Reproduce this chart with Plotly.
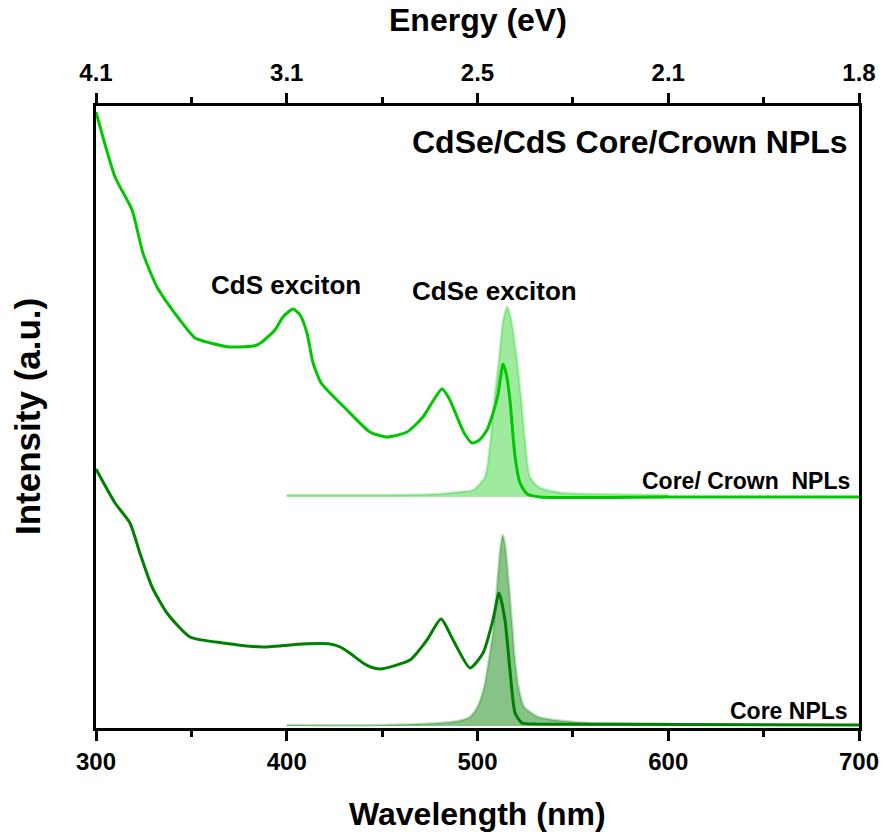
import plotly.graph_objects as go

# ---------------- data ----------------
# Core/Crown NPLs absorbance (wavelength nm, intensity a.u., relative to its own baseline)
cc_abs_nm = [300, 310, 318.9, 324.6, 332, 344, 351.9, 360, 370.2, 384.4, 393.8, 398, 403.3, 407,
             410.6, 413.8, 418, 422.7, 431.6, 443.6, 452.6, 463, 471.4, 477, 481.4, 485, 489.3,
             493, 497.1, 501, 505, 508, 510.7, 513.4, 515.2, 517, 519.7, 522.3, 526, 532.8, 600, 700]
cc_abs_val = [3.85, 3.20, 2.87, 2.44, 2.10, 1.77, 1.59, 1.54, 1.50, 1.52, 1.67, 1.80, 1.88, 1.82,
              1.64, 1.34, 1.14, 1.04, 0.87, 0.65, 0.60, 0.65, 0.80, 0.97, 1.08, 0.99, 0.80,
              0.64, 0.54, 0.57, 0.67, 0.83, 1.02, 1.33, 1.22, 0.97, 0.40, 0.14, 0.03, 0.0, 0.0, 0.0]

# Core/Crown NPLs photoluminescence
cc_pl_nm = [400, 450, 480, 490, 497.8, 503.9, 506.9, 508.8, 511.4, 513.5, 515.6, 517.5, 520.5,
            523, 524.9, 527.5, 532, 536.3, 545, 560, 600]
cc_pl_val = [0.02, 0.02, 0.03, 0.05, 0.07, 0.20, 0.57, 0.96, 1.40, 1.77, 1.90, 1.79, 1.40,
             0.96, 0.57, 0.20, 0.10, 0.07, 0.04, 0.03, 0.02]

# Core NPLs absorbance
core_abs_nm = [300, 310, 317.8, 323, 329.4, 337.2, 349.3, 366.6, 387.5, 408.5, 422.7, 428, 433,
               440, 444, 449, 464.6, 473.5, 480.9, 487.2, 496.1, 502.9, 508.1, 511.3, 514.4, 517,
               519.7, 523.3, 531.2, 700]
core_abs_val = [2.57, 2.23, 2.03, 1.73, 1.39, 1.13, 0.89, 0.83, 0.79, 0.82, 0.82, 0.79, 0.73,
                0.63, 0.59, 0.57, 0.66, 0.86, 1.07, 0.86, 0.58, 0.73, 1.06, 1.33, 1.06, 0.56,
                0.13, 0.03, 0.02, 0.01]

# Core NPLs photoluminescence
core_pl_nm = [400, 450, 480, 490, 496, 500, 503.5, 506.5, 508.3, 510.5, 512, 513.2, 514.5, 516.5,
              518.4, 519.3, 521.5, 524.5, 532, 545, 560, 600]
core_pl_val = [0.01, 0.01, 0.03, 0.05, 0.09, 0.19, 0.39, 0.73, 0.96, 1.46, 1.78, 1.91, 1.81, 1.41,
               0.96, 0.73, 0.39, 0.19, 0.09, 0.05, 0.03, 0.02]

# vertical offset of the Core/Crown spectra (stacked display)
cc_offset = 2.29

# axis ticks
wl_ticks = [300, 400, 500, 600, 700]
energy_tick_pos = [300, 400, 500, 600, 700]
energy_tick_text = ["4.1", "3.1", "2.5", "2.1", "1.8"]

# ---------------- styling ----------------
CC_LINE = "#00c800"
CORE_LINE = "#008000"
CC_FILL = "rgba(0,200,0,0.38)"
CC_EDGE = "rgba(0,200,0,0.25)"
CORE_FILL = "rgba(0,128,0,0.47)"
CORE_EDGE = "rgba(0,128,0,0.25)"
ARIAL = "Liberation Sans, Arial, sans-serif"

fig = go.Figure()

# Core PL (baseline + filled curve)
fig.add_trace(go.Scatter(x=[core_pl_nm[0], core_pl_nm[-1]], y=[0, 0], mode="lines",
                         line=dict(width=0, color="rgba(0,0,0,0)"), hoverinfo="skip", showlegend=False))
fig.add_trace(go.Scatter(x=core_pl_nm, y=core_pl_val, mode="lines", fill="tonexty",
                         fillcolor=CORE_FILL, line=dict(color=CORE_EDGE, width=2.5, shape="spline", smoothing=0.6),
                         showlegend=False))
# Core/Crown PL
fig.add_trace(go.Scatter(x=[cc_pl_nm[0], cc_pl_nm[-1]], y=[cc_offset, cc_offset], mode="lines",
                         line=dict(width=0, color="rgba(0,0,0,0)"), hoverinfo="skip", showlegend=False))
fig.add_trace(go.Scatter(x=cc_pl_nm, y=[v + cc_offset for v in cc_pl_val], mode="lines", fill="tonexty",
                         fillcolor=CC_FILL, line=dict(color=CC_EDGE, width=2.5, shape="spline", smoothing=0.6),
                         showlegend=False))
# Absorbance curves
fig.add_trace(go.Scatter(x=core_abs_nm, y=core_abs_val, mode="lines",
                         line=dict(color=CORE_LINE, width=3, shape="spline", smoothing=0.6), showlegend=False))
fig.add_trace(go.Scatter(x=cc_abs_nm, y=[v + cc_offset for v in cc_abs_val], mode="lines",
                         line=dict(color=CC_LINE, width=3, shape="spline", smoothing=0.6), showlegend=False))
# invisible trace to carry the top (energy) axis
fig.add_trace(go.Scatter(x=[300, 700], y=[0, 0], xaxis="x2", mode="lines",
                         line=dict(width=0, color="rgba(0,0,0,0)"), hoverinfo="skip", showlegend=False))

axis_common = dict(showline=True, linecolor="black", linewidth=2.5, showgrid=False, zeroline=False,
                   ticks="outside", ticklen=10, tickwidth=2.5, tickcolor="black", automargin=False,
                   minor=dict(ticks="outside", ticklen=6, tickwidth=2.5, tickcolor="black", dtick=50),
                   range=[300, 700], layer="below traces")

fig.update_layout(
    width=885, height=834,
    margin=dict(l=96, r=26, t=106, b=106),
    paper_bgcolor="white", plot_bgcolor="white",
    xaxis=dict(**axis_common, tickvals=wl_ticks, mirror=True, ticklabelstandoff=0,
               tickfont=dict(family=ARIAL, size=24, color="black", weight="bold")),
    xaxis2=dict(**axis_common, overlaying="x", side="top", anchor="y", ticklabelstandoff=3,
                tickvals=energy_tick_pos, ticktext=energy_tick_text,
                tickfont=dict(family=ARIAL, size=24, color="black", weight="bold")),
    yaxis=dict(range=[-0.02, 6.20], showline=True, linecolor="black", linewidth=2.5, mirror=True,
               showgrid=False, zeroline=False, showticklabels=False, ticks="", automargin=False),
    annotations=[
        # axis titles
        dict(text="Wavelength (nm)", x=0.5, xref="paper", xanchor="center", y=0, yref="paper",
             yanchor="middle", yshift=-86, showarrow=False,
             font=dict(family=ARIAL, size=32, color="black", weight="bold")),
        dict(text="Energy (eV)", x=0.5, xref="paper", xanchor="center", y=1, yref="paper",
             yanchor="middle", yshift=86, showarrow=False,
             font=dict(family=ARIAL, size=32, color="black", weight="bold")),
        dict(text="Intensity (a.u.)", x=0, xref="paper", xanchor="center", xshift=-69,
             y=0.5, yref="paper", yanchor="middle", textangle=-90, showarrow=False,
             font=dict(family=ARIAL, size=35, color="black", weight="bold")),
        # labels
        dict(text="CdSe/CdS Core/Crown NPLs", x=1, xref="paper", xanchor="right", xshift=-9,
             y=5.84, yref="y", yanchor="middle", showarrow=False,
             font=dict(family=ARIAL, size=32, color="black", weight="bold")),
        dict(text="CdS exciton", x=399.6, xref="x", xanchor="center", y=4.41, yref="y", yanchor="middle",
             showarrow=False, font=dict(family=ARIAL, size=26, color="black", weight="bold")),
        dict(text="CdSe exciton", x=508.7, xref="x", xanchor="center", y=4.35, yref="y", yanchor="middle",
             showarrow=False, font=dict(family=ARIAL, size=26, color="black", weight="bold")),
        dict(text="Core/ Crown  NPLs", x=1, xref="paper", xanchor="right", xshift=-7,
             y=2.45, yref="y", yanchor="middle", showarrow=False,
             font=dict(family=ARIAL, size=23, color="black", weight="bold")),
        dict(text="Core NPLs", x=1, xref="paper", xanchor="right", xshift=-9,
             y=0.15, yref="y", yanchor="middle", showarrow=False,
             font=dict(family=ARIAL, size=23, color="black", weight="bold")),
    ],
)

# remove the browser's default 8px page margin so the figure fills the window exactly
fig.write_html("out.html", config={"displayModeBar": False},
               post_script="document.body.style.margin='0px';")
